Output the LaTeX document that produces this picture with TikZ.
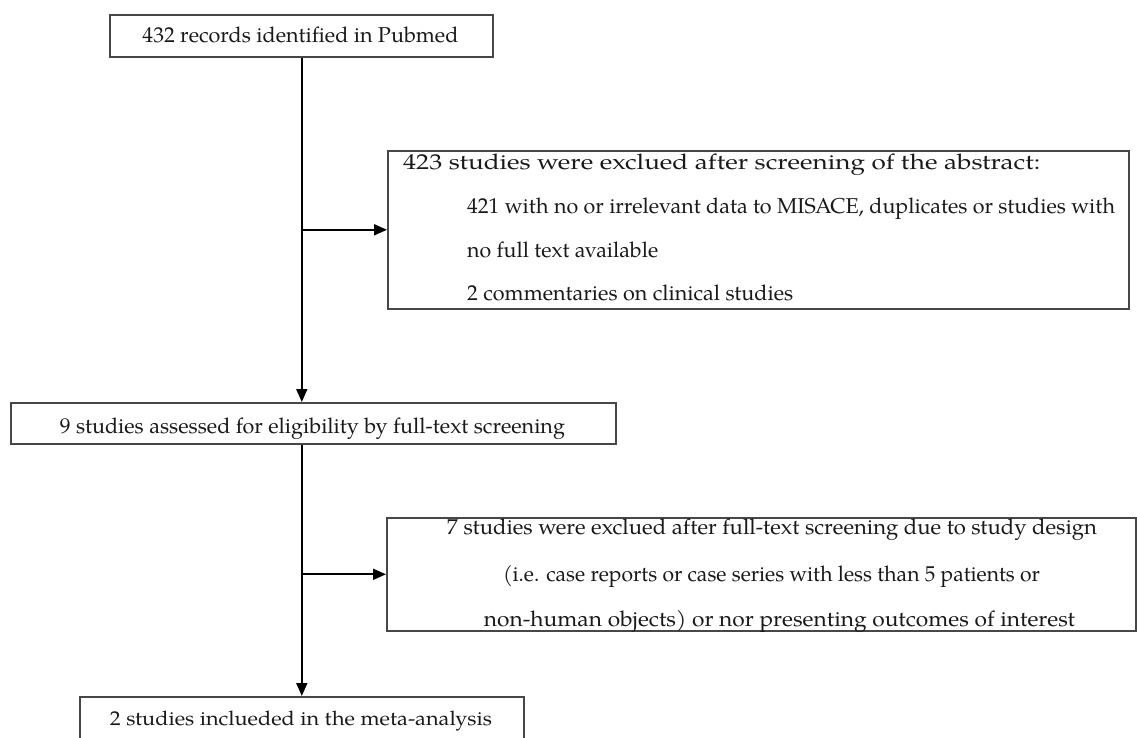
\documentclass[tikz,border=0pt]{standalone}
\usepackage{fontspec}
\setmainfont{TeX Gyre Pagella}
\usetikzlibrary{arrows.meta}
\newcommand{\fitw}[2]{\resizebox{#1}{\height}{#2}}
\begin{document}
\begin{tikzpicture}[x=1pt,y=-1pt,
  box/.style={draw=black!72, line width=1.6pt, rectangle, inner sep=0pt, anchor=north west},
  conn/.style={line width=1.8pt, -{Triangle[length=13pt,width=11pt]}},
  lbl/.style={font=\fontsize{21.5}{24}\selectfont, inner sep=0pt, text=black!90}]
\useasboundingbox (0,0) rectangle (1137,738);
\clip (0,0) rectangle (1137,738);
% boxes
\node[box, minimum width=383pt, minimum height=42pt] (b1) at (109,14) {};
\node[box, minimum width=741pt, minimum height=158pt] (b2) at (387,150) {};
\node[box, minimum width=605pt, minimum height=41pt] (b3) at (10,402) {};
\node[box, minimum width=749pt, minimum height=113pt] (b5) at (386,517) {};
\node[box, minimum width=444pt, minimum height=80pt] (b4) at (79,696) {};
% texts
\node[lbl, anchor=base] (t1) at (300.5,43) {\fitw{316pt}{432 records identified in Pubmed}};
\node[lbl, anchor=base west] (t2a) at (403,170) {\fitw{637pt}{423 studies were exclued after screening of the abstract:}};
\node[lbl, anchor=base west] (t2b) at (467,213) {\fitw{648pt}{421 with no or irrelevant data to MISACE, duplicates or studies with}};
\node[lbl, anchor=base west] (t2c) at (467,257) {\fitw{191pt}{no full text available}};
\node[lbl, anchor=base west] (t2d) at (467,300) {\fitw{326pt}{2 commentaries on clinical studies}};
\node[lbl, anchor=base] (t3) at (312.5,433) {\fitw{505pt}{9 studies assessed for eligibility by full-text screening}};
\node[lbl, anchor=base] (t5a) at (772,534) {\fitw{650pt}{7 studies were exclued after full-text screening due to study design}};
\node[lbl, anchor=base] (t5b) at (771.5,581) {\fitw{537pt}{(i.e. case reports or case series with less than 5 patients or}};
\node[lbl, anchor=base] (t5c) at (779.5,626) {\fitw{591pt}{non-human objects) or nor presenting outcomes of interest}};
\node[lbl, anchor=base, font=\fontsize{20}{22}\selectfont] (t4) at (301,725) {\fitw{382pt}{2 studies inclueded in the meta-analysis}};
% connectors
\coordinate (j1) at ([xshift=0.5pt]b1.south |- b2.west);
\coordinate (j2) at ([xshift=0.5pt]b1.south |- b5.west);
\draw[conn] ([xshift=0.5pt]b1.south) -- ([xshift=0.5pt]b1.south |- b3.north);
\draw[conn] (j1) -- (b2.west);
\draw[conn] ([xshift=0.5pt]b1.south |- b3.south) -- ([xshift=0.5pt]b1.south |- b4.north);
\draw[conn] (j2) -- (b5.west);
\end{tikzpicture}
\end{document}
